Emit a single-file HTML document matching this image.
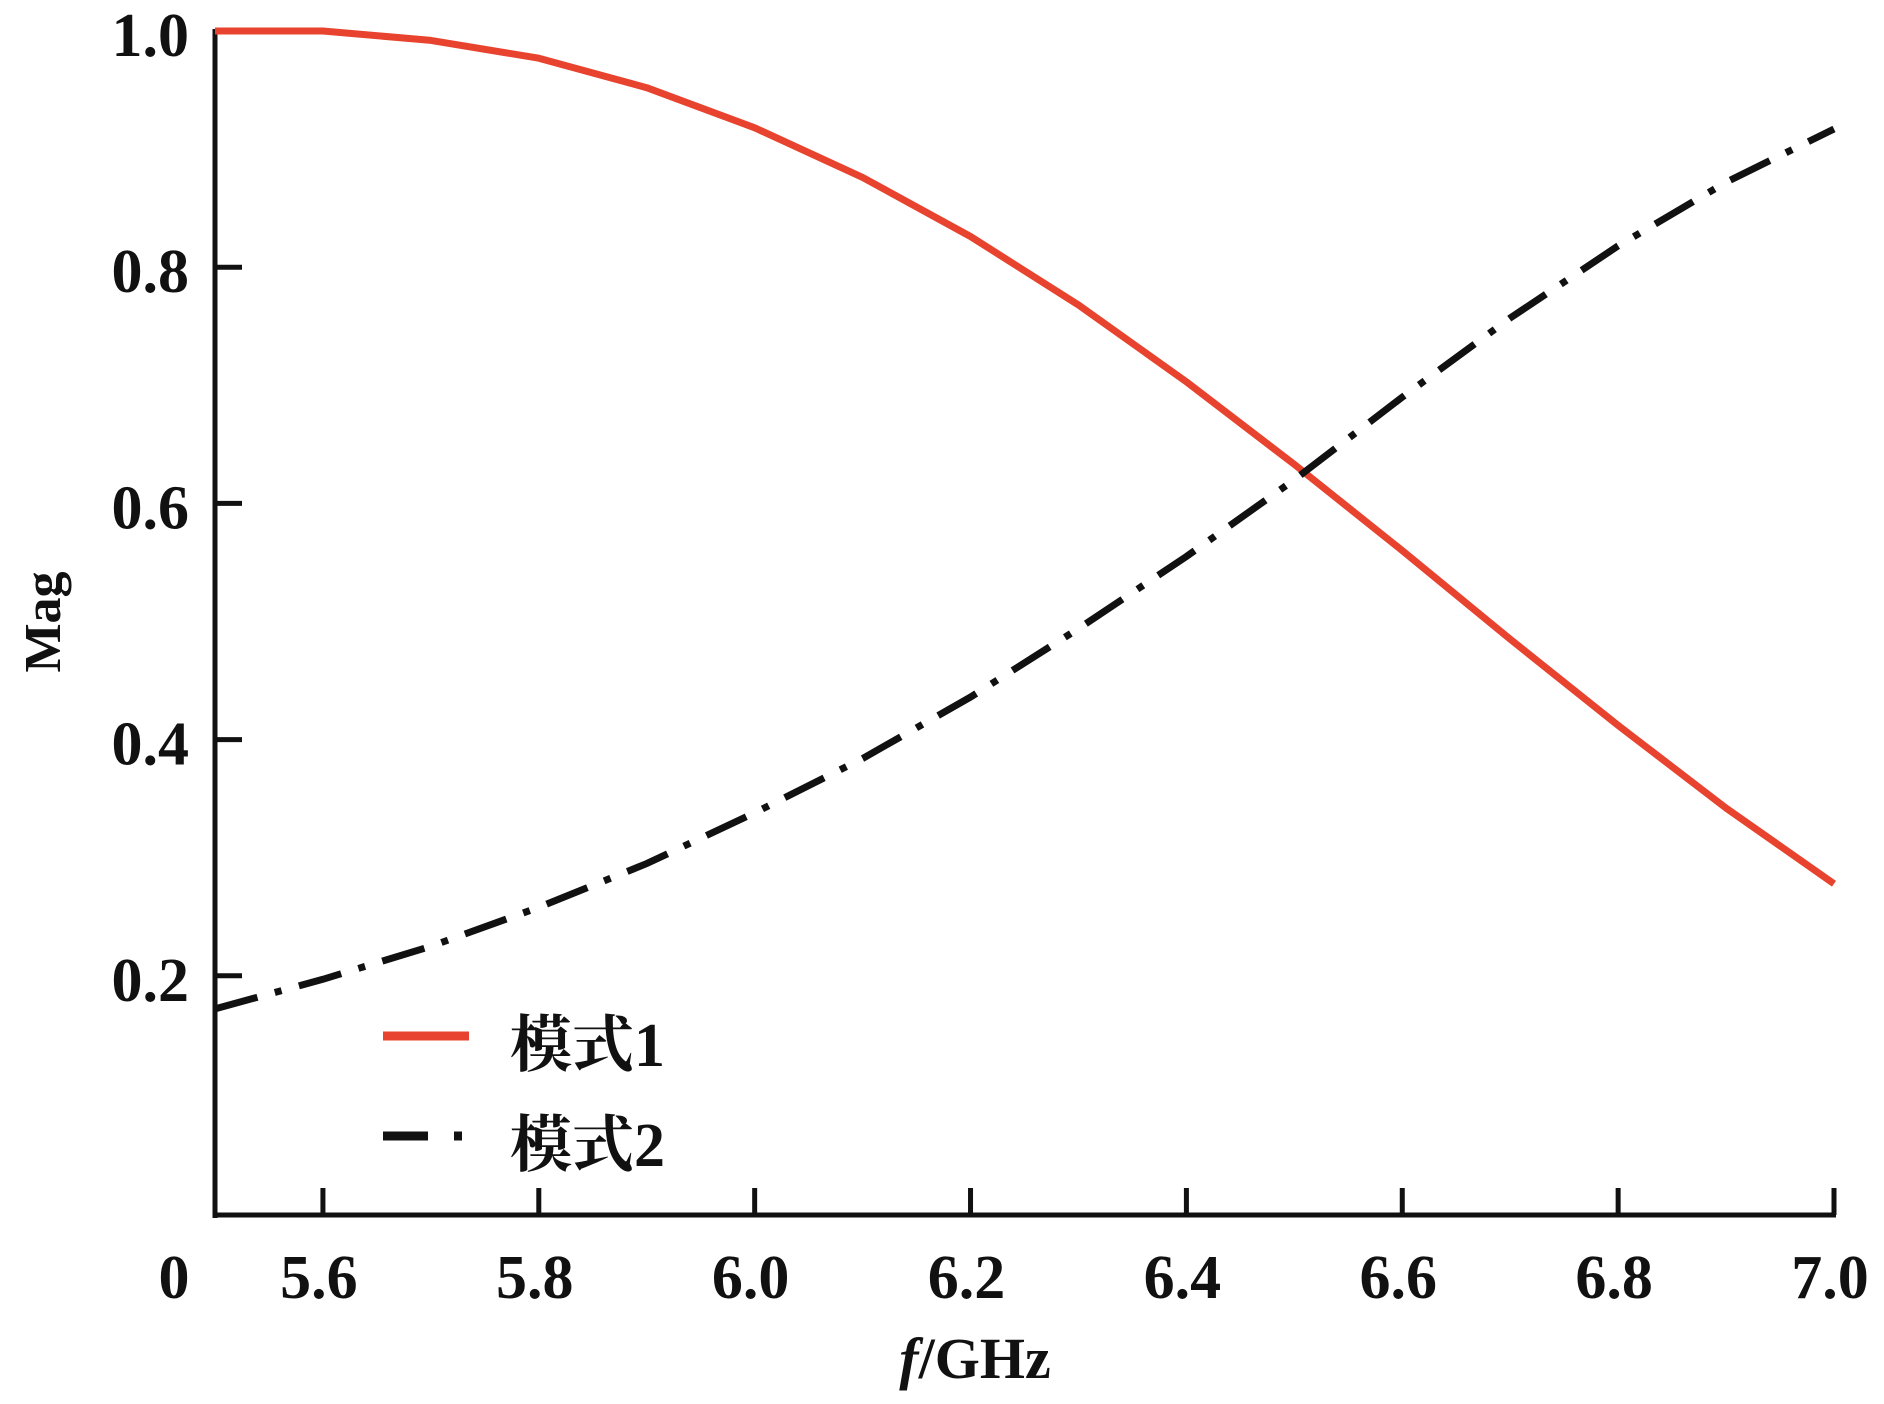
<!DOCTYPE html>
<html><head><meta charset="utf-8"><style>
html,body{margin:0;padding:0;background:#fff;}
svg{display:block;}
text{font-family:"Liberation Serif","Noto Serif CJK SC",serif;fill:#111;}
</style></head><body>
<svg id="chart" width="1884" height="1404" viewBox="0 0 1884 1404" xmlns="http://www.w3.org/2000/svg">
<g id="axes"></g>
<g id="series"></g>
<g id="legend">
  <line x1="383" y1="1036" x2="469" y2="1036" stroke="#e8432e" stroke-width="9"/>
  <text x="510" y="1066" font-size="62" font-weight="bold">模式1</text>
  <line x1="383" y1="1136" x2="428" y2="1136" stroke="#111" stroke-width="9"/>
  <line x1="454" y1="1136" x2="462" y2="1136" stroke="#111" stroke-width="9"/>
  <text x="510" y="1166" font-size="62" font-weight="bold">模式2</text>
</g>
<text x="0" y="0" font-size="52" font-weight="bold" transform="translate(60,622) rotate(-90)" text-anchor="middle">Mag</text>
<text x="975" y="1378" font-size="58" text-anchor="middle" font-weight="bold"><tspan font-style="italic">f</tspan>/GHz</text>
</svg>
<script>
const freqs = [5.5,5.6,5.7,5.8,5.9,6.0,6.1,6.2,6.3,6.4,6.5,6.6,6.7,6.8,6.9,7.0];
const mode1 = [1.0,1.0,0.992,0.977,0.952,0.918,0.876,0.826,0.768,0.703,0.633,0.56,0.485,0.412,0.342,0.278];
const mode2 = [0.172,0.197,0.225,0.258,0.295,0.338,0.384,0.436,0.494,0.555,0.62,0.69,0.757,0.818,0.872,0.917];
const xTicks = [5.6,5.8,6.0,6.2,6.4,6.6,6.8,7.0];
const xTickLabels = ["5.6","5.8","6.0","6.2","6.4","6.6","6.8","7.0"];
const yTicks = [0.2,0.4,0.6,0.8,1.0];
const yTickLabels = ["0.2","0.4","0.6","0.8","1.0"];

const NS="http://www.w3.org/2000/svg";
const X0=215,X1=1834,Y1=31,Y0=1212,AXB=1215;
function sx(v){return X0+(v-5.5)/(7.0-5.5)*(X1-X0);}
function sy(v){return Y0-(v/1.0)*(Y0-Y1);}
function mk(tag,attrs,parent){const e=document.createElementNS(NS,tag);for(const k in attrs)e.setAttribute(k,attrs[k]);parent.appendChild(e);return e;}
const axes=document.getElementById('axes'), series=document.getElementById('series');

let e=mk('line',{x1:X0,y1:Y1-2,x2:X0,y2:AXB+3,stroke:'#111','stroke-width':5},axes);


e=mk('line',{x1:X0-2,y1:AXB,x2:X1+2,y2:AXB,stroke:'#111','stroke-width':5},axes);



yTicks.forEach((v,i)=>{
  const t=mk('line',{x1:X0,y1:sy(v),x2:X0+27,y2:sy(v),stroke:'#111','stroke-width':5},axes);
  
  
  const l=mk('text',{x:189,y:sy(v)+25,'font-size':62,'font-weight':'bold','text-anchor':'end'},axes);
  l.textContent=yTickLabels[i];
  
  
});
xTicks.forEach((v,i)=>{
  const t=mk('line',{x1:sx(v),y1:AXB,x2:sx(v),y2:AXB-27,stroke:'#111','stroke-width':5},axes);
  
  
  const l=mk('text',{x:sx(v)-4,y:1298,'font-size':62,'font-weight':'bold','text-anchor':'middle'},axes);
  l.textContent=xTickLabels[i];
  
  
});
e=mk('text',{x:174,y:1298,'font-size':62,'font-weight':'bold','text-anchor':'middle'},axes);
e.textContent='0';



function pts(arr){return freqs.map((f,i)=>sx(f).toFixed(1)+','+sy(arr[i]).toFixed(1)).join(' ');}
e=mk('polyline',{points:pts(mode1),fill:'none',stroke:'#e8432e','stroke-width':7,'stroke-linejoin':'round'},series);


e=mk('polyline',{points:pts(mode2),fill:'none',stroke:'#111','stroke-width':7,'stroke-dasharray':'44 18 7 18'},series);


</script>
</body></html>
